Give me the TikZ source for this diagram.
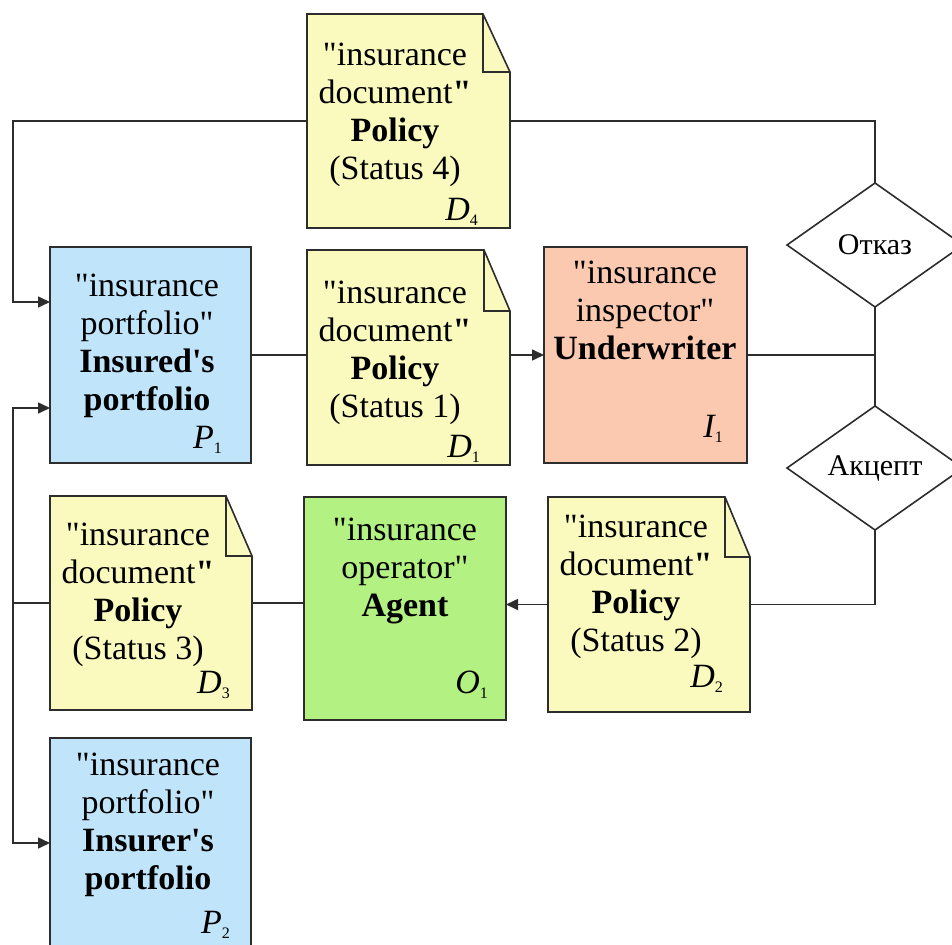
\documentclass[tikz,border=0pt]{standalone}
\usepackage{fontspec}
\setmainfont{Liberation Serif}[Ligatures=TeXOff]
\usetikzlibrary{arrows.meta,shapes.geometric}

\definecolor{edge}{RGB}{45,45,45}
\definecolor{docyellow}{RGB}{250,250,190}
\definecolor{portblue}{RGB}{192,228,250}
\definecolor{inspsalmon}{RGB}{251,200,176}
\definecolor{opgreen}{RGB}{178,241,130}

% italic letter with a small upright index
\newcommand\tagsub[2]{#1\raisebox{-5pt}{\fontsize{16}{16}\selectfont\upshape #2}}

% document outline with a folded top-right corner, drawn on a named node
\newcommand\drawdoc[3]{%
  \filldraw[frame, fill=docyellow] (#1.north west) -- ([xshift=-#2pt]#1.north east)
    -- ([yshift=-#3pt]#1.north east) -- (#1.south east) -- (#1.south west) -- cycle;
  \draw[frame, line join=miter] ([xshift=-#2pt]#1.north east)
    -- ([xshift=-#2pt,yshift=-#3pt]#1.north east) -- ([yshift=-#3pt]#1.north east);
}

\tikzset{
  frame/.style={draw=edge, line width=1.6pt},
  boxnode/.style={frame, anchor=north west, inner sep=0pt, outer sep=0pt},
  docnode/.style={anchor=north west, inner sep=0pt, outer sep=0pt},
  % multi-line text: the base anchor sits on the last line
  body/.style={font=\fontsize{34}{38}\selectfont, align=center, anchor=base, inner sep=0pt},
  tag/.style={font=\fontsize{34}{38}\selectfont\itshape, anchor=base east, inner sep=0pt},
  decision/.style={diamond, frame, fill=white, inner sep=0pt, outer sep=0pt,
    minimum width=176pt, minimum height=124pt, font=\fontsize{30}{34}\selectfont},
  link/.style={draw=edge, line width=1.6pt},
  arr/.style={link, -{Triangle[length=12pt,width=11pt]}}
}

\begin{document}
\begin{tikzpicture}[x=1pt,y=-1pt]
\useasboundingbox (0,0) rectangle (952,944);

% left rail for the feedback connectors
\coordinate (railL) at (13,0);

% documents (outline nodes)
\node[docnode, minimum width=203pt, minimum height=214pt] (D4) at (307,14) {};
\node[docnode, minimum width=203pt, minimum height=215pt] (D1) at (307,250) {};
\node[docnode, minimum width=202pt, minimum height=214pt] (D3) at (50,496) {};
\node[docnode, minimum width=202pt, minimum height=215pt] (D2) at (548,497) {};

% participants
\node[boxnode, fill=portblue, minimum width=201pt, minimum height=216pt] (P1) at (50,247) {};
\node[boxnode, fill=inspsalmon, minimum width=203pt, minimum height=216pt] (I1) at (544,247) {};
\node[boxnode, fill=opgreen, minimum width=202pt, minimum height=223pt] (O1) at (304,497) {};
\node[boxnode, fill=portblue, minimum width=201pt, minimum height=210pt] (P2) at (50,738) {};

% decisions
\node[decision] (Otkaz) at (875,245) {Отказ};
\node[decision] (Akcept) at (875,468) {Акцепт};

% connectors
\draw[arr] (D4.west) -- (D4.west -| railL) |- ([yshift=53pt]P1.west);
\draw[link] (D4.east) -| (Otkaz.north);
\draw[link] (Otkaz.south) -- (Akcept.north);
\draw[link] (I1.east) -- (I1.east -| Otkaz.south);
\draw[link] (Akcept.south) |- (D2.east);
\draw[arr] (D2.west) -- (D2.west -| O1.east);
\draw[link] (D3.east) -- (D3.east -| O1.west);
\draw[link] (D3.west) -- (D3.west -| railL);
\draw[arr] (D3.west -| railL) |- ([yshift=-53pt]P1.west);
\draw[arr] (D3.west -| railL) |- (P2.west);
\draw[link] (P1.east) -- (P1.east -| D1.west);
\draw[arr] (P1.east -| D1.east) -- (I1.west);

% document outlines on top of the connector ends
\drawdoc{D4}{27}{58}
\drawdoc{D1}{26}{61}
\drawdoc{D3}{26}{60}
\drawdoc{D2}{25}{60}

% texts
\node[body] (D4t) at (395,179) {"insurance\\document\textbf{"}\\\textbf{Policy}\\(Status 4)};
\node[tag] (D4l) at (478,220) {\tagsub{D}{4}};

\node[body] (P1t) at (147,410) {"insurance\\portfolio"\\\textbf{Insured's}\\\textbf{portfolio}};
\node[tag] (P1l) at (222,448) {\tagsub{P}{1}};

\node[body] (D1t) at (395,417) {"insurance\\document\textbf{"}\\\textbf{Policy}\\(Status 1)};
\node[tag] (D1l) at (480,457) {\tagsub{D}{1}};

\node[body] (I1t) at (645,359) {"insurance\\inspector"\\\textbf{Underwriter}};
\node[tag] (I1l) at (723,437) {\tagsub{I}{1}};

\node[body] (D3t) at (138,659) {"insurance\\document\textbf{"}\\\textbf{Policy}\\(Status 3)};
\node[tag] (D3l) at (230,693) {\tagsub{D}{3}};

\node[body] (O1t) at (405,616) {"insurance\\operator"\\\textbf{Agent}};
\node[tag] (O1l) at (488,693) {\tagsub{O}{1}};

\node[body] (D2t) at (636,651) {"insurance\\document\textbf{"}\\\textbf{Policy}\\(Status 2)};
\node[tag] (D2l) at (723,687) {\tagsub{D}{2}};

\node[body] (P2t) at (148,889) {"insurance\\portfolio"\\\textbf{Insurer's}\\\textbf{portfolio}};
\node[tag] (P2l) at (230,933) {\tagsub{P}{2}};
\end{tikzpicture}
\end{document}
